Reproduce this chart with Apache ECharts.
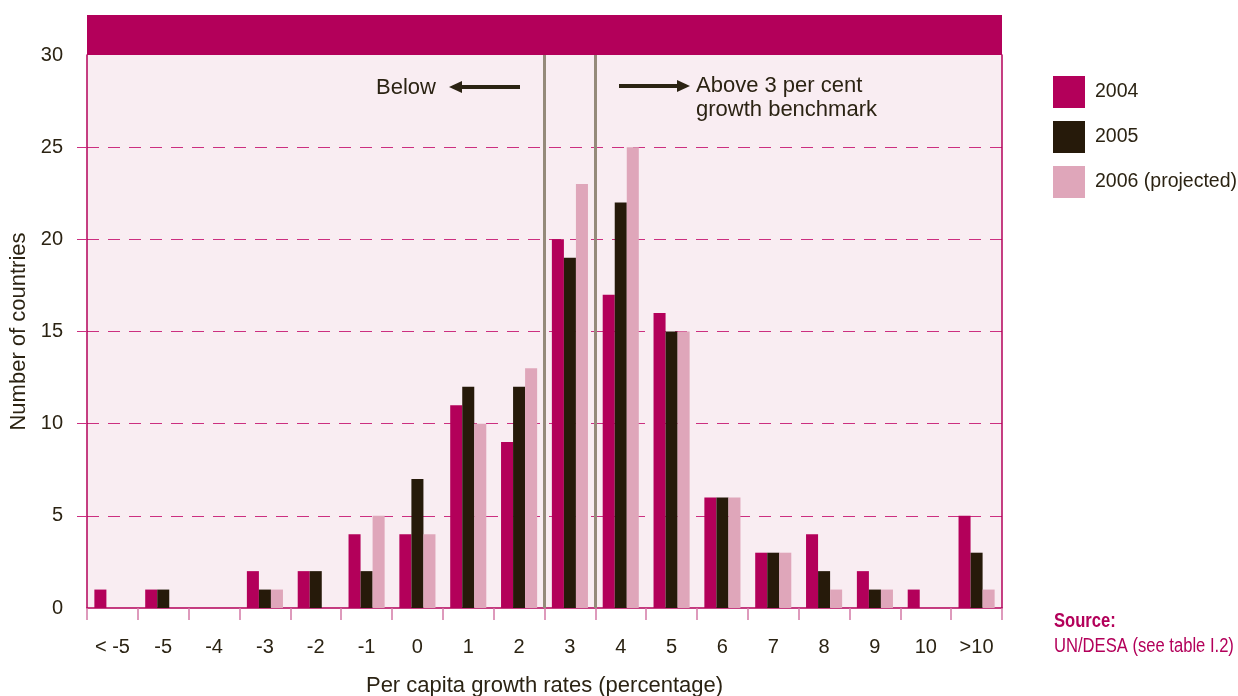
<!DOCTYPE html>
<html>
<head>
<meta charset="utf-8">
<script src="https://cdn.jsdelivr.net/npm/echarts@6/dist/echarts.min.js"></script>
<style>html,body{margin:0;padding:0;background:#fff}#c{width:1238px;height:696px}</style>
</head>
<body>
<div id="c"></div>
<script>
const categories = ['< -5','-5','-4','-3','-2','-1','0','1','2','3','4','5','6','7','8','9','10','>10'];
const s2004 = [1,1,0,2,2,4,4,11,9,20,17,16,6,3,4,2,1,5];
const s2005 = [0,1,0,1,2,2,7,12,12,19,22,15,6,3,2,1,0,3];
const s2006 = [0,0,0,1,0,5,4,10,13,23,25,15,6,3,1,1,0,1];
const seriesNames = ['2004','2005','2006 (projected)'];
const yTicks = [0,5,10,15,20,25,30];
const benchmarkBounds = [9,10];

const MAG = '#b3005a', DARK = '#2b2313', PINK = '#dfa6ba', BLACKBAR = '#261a0a';
const SANS = '"Liberation Sans", Arial, sans-serif';

const chart = echarts.init(document.getElementById('c'));
chart.setOption({
  animation: false,
  backgroundColor: '#ffffff',
  grid: { left: 87, right: 236, top: 55, bottom: 88, show: true, backgroundColor: '#f9edf2', borderWidth: 0,
          containLabel: false, outerBoundsMode: 'none' },
  legend: {
    orient: 'vertical', left: 1053, top: 76, padding: 0, itemWidth: 32, itemHeight: 32, itemGap: 13,
    icon: 'rect', selectedMode: false,
    textStyle: { fontFamily: SANS, fontSize: 19.5, color: DARK, padding: [6,0,0,5] },
    data: seriesNames
  },
  xAxis: [{
    type: 'category', data: categories, boundaryGap: true,
    axisLine: { show: true, lineStyle: { color: MAG, width: 1.5 } },
    axisTick: { show: true, interval: 0, length: 12, lineStyle: { color: '#d47aa6', width: 1.5 } },
    axisLabel: { interval: 0, margin: 29, fontFamily: SANS, fontSize: 20, color: DARK },
    name: 'Per capita growth rates (percentage)', nameLocation: 'middle', nameGap: 67,
    nameTextStyle: { fontFamily: SANS, fontSize: 22, color: DARK }
  }, {
    type: 'value', min: 0, max: categories.length, show: false
  }],
  yAxis: [{
    type: 'value', min: 0, max: 30, interval: 5,
    axisLine: { show: true, lineStyle: { color: MAG, width: 1.5 } },
    axisTick: { show: true, customValues: [5,10,15,20,25], length: 10, lineStyle: { color: '#cc2f80', width: 1 } },
    axisLabel: { margin: 24, fontFamily: SANS, fontSize: 20, color: DARK, customValues: yTicks },
    splitLine: { show: true, lineStyle: { color: '#cc2f80', width: 1, type: [12, 9] } },
    name: 'Number of countries', nameLocation: 'middle', nameGap: 49, nameRotate: 90,
    nameTextStyle: { fontFamily: SANS, fontSize: 22, color: DARK }
  }, {
    type: 'value', min: 0, max: 30, position: 'right',
    axisLine: { show: true, lineStyle: { color: MAG, width: 1.5 } },
    axisTick: { show: false }, axisLabel: { show: false }, splitLine: { show: false }
  }],
  series: [
    { name: seriesNames[0], type: 'bar', data: s2004, itemStyle: { color: MAG }, barGap: '0%', barCategoryGap: '29%' },
    { name: seriesNames[1], type: 'bar', data: s2005, itemStyle: { color: BLACKBAR }, barGap: '0%', barCategoryGap: '29%' },
    { name: seriesNames[2], type: 'bar', data: s2006, itemStyle: { color: PINK }, barGap: '0%', barCategoryGap: '29%' },
    { name: 'benchmark', type: 'line', xAxisIndex: 1, data: [], silent: true,
      markLine: { symbol: ['none','none'], silent: true, label: { show: false },
        lineStyle: { color: '#958a7a', width: 3, type: 'solid' },
        data: benchmarkBounds.map(v => ({ xAxis: v })) } }
  ],
  graphic: [
    { type: 'rect', left: 87, top: 15, shape: { width: 915, height: 40 }, style: { fill: MAG }, z: 10 },
    { type: 'text', left: 376, top: 77, style: { text: 'Below', font: '22px ' + SANS, fill: DARK } },
    { type: 'line', shape: { x1: 520, y1: 87, x2: 460, y2: 87 }, style: { stroke: DARK, lineWidth: 4 } },
    { type: 'polygon', shape: { points: [[449,87],[462,81],[462,93]] }, style: { fill: DARK } },
    { type: 'line', shape: { x1: 619, y1: 86, x2: 679, y2: 86 }, style: { stroke: DARK, lineWidth: 4 } },
    { type: 'polygon', shape: { points: [[690,86],[677,80],[677,92]] }, style: { fill: DARK } },
    { type: 'text', left: 696, top: 74, style: { text: 'Above 3 per cent\ngrowth benchmark', font: '22px ' + SANS, fill: DARK, lineHeight: 24 } },
    { type: 'text', x: 1054, y: 611, scaleX: 0.83, style: { text: 'Source:', font: 'bold 20px ' + SANS, fill: MAG } },
    { type: 'text', x: 1054, y: 636, scaleX: 0.83, style: { text: 'UN/DESA (see table I.2)', font: '20px ' + SANS, fill: MAG } }
  ]
});
</script>
</body>
</html>
